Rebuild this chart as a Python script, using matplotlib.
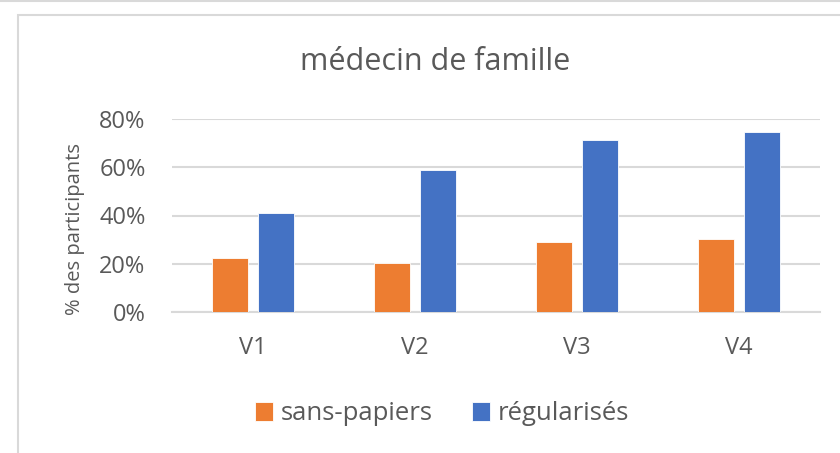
import matplotlib.pyplot as plt
import numpy as np
from matplotlib.patches import Rectangle
from matplotlib.lines import Line2D

categories = ["V1", "V2", "V3", "V4"]
sans_papiers = [0.223, 0.204, 0.29, 0.303]
regularises = [0.41, 0.588, 0.712, 0.748]
yticks = [0, 0.2, 0.4, 0.6, 0.8]
ytick_labels = ["0%", "20%", "40%", "60%", "80%"]

orange = "#ED7D31"
blue = "#4472C4"
text_c = "#595959"
grid_c = "#D9D9D9"

plt.rcParams["font.family"] = ["Open Sans", "DejaVu Sans"]

fig = plt.figure(figsize=(8.4, 4.53), dpi=100)
# chart frame like the spreadsheet export
fig.patches.append(Rectangle((18 / 840, -0.1), 1.0, 1 - 15 / 453 + 0.1,
                             transform=fig.transFigure, fill=False,
                             edgecolor="#D9D9D9", linewidth=1.5))
fig.lines.append(Line2D([0, 1], [1 - 1 / 453, 1 - 1 / 453], transform=fig.transFigure,
                        color="#D9D9D9", linewidth=1.5))

ax = fig.add_axes([172 / 840, 1 - 312 / 453, (820 - 172) / 840, (312 - 119) / 453])

x = np.arange(len(categories))
w = 0.222
off = 0.142
ax.bar(x - off, sans_papiers, w, color=orange, label="sans-papiers", zorder=3,
       edgecolor="white", linewidth=0.6)
ax.bar(x + off, regularises, w, color=blue, label="régularisés", zorder=3,
       edgecolor="white", linewidth=0.6)

ax.set_xlim(-0.5, len(categories) - 0.5)
ax.set_ylim(0, 0.8)
ax.set_yticks(yticks)
ax.set_yticklabels(ytick_labels)
ax.set_xticks(x)
ax.set_xticklabels(categories)
ax.yaxis.grid(True, color=grid_c, linewidth=1.5, zorder=0)
ax.set_axisbelow(True)
for s in ["top", "right", "left"]:
    ax.spines[s].set_visible(False)
ax.spines["bottom"].set_color(grid_c)
ax.spines["bottom"].set_linewidth(1.5)
ax.tick_params(axis="both", length=0, labelsize=17, colors=text_c)
ax.tick_params(axis="y", pad=19)
ax.tick_params(axis="x", pad=17)

fig.text(75 / 840, 1 - 229 / 453, "% des participants", rotation=90,
         ha="center", va="center", fontsize=14.5, color=text_c)
fig.text(435 / 840, 1 - 62 / 453, "médecin de famille", ha="center", va="center",
         fontsize=22, color=text_c)

ax.legend(loc="center", bbox_to_anchor=(442 / 840, 1 - 414 / 453),
          bbox_transform=fig.transFigure, ncol=2, frameon=False,
          fontsize=18.5, labelcolor=text_c, handlelength=0.72, handleheight=0.72,
          handletextpad=0.3, columnspacing=1.5)

fig.savefig("out.png", dpi=100)
